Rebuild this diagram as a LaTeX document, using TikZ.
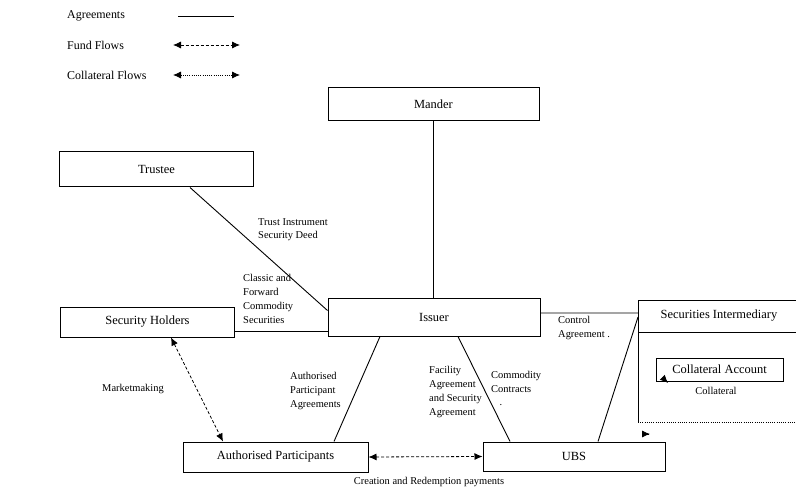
\documentclass[tikz,border=0pt]{standalone}
\usepackage{fontspec}
\setmainfont{Liberation Serif}
\usetikzlibrary{arrows.meta}
\newcommand\boxfont{\fontsize{12.5}{15}\selectfont}
\newcommand\lblfont{\fontsize{10.5}{14}\selectfont}
\newcommand\lgdfont{\fontsize{12}{14}\selectfont}
\begin{document}
\begin{tikzpicture}[x=1bp,y=-1bp,
  box/.style={draw, line width=1bp, inner sep=0pt, font=\boxfont},
  lbl/.style={inner sep=0pt, align=left, anchor=north west, font=\lblfont},
  lgd/.style={inner sep=0pt, anchor=west, font=\lgdfont},
  agree/.style={line width=0.9bp},
  fundflow/.style={line width=0.8bp, dash pattern=on 3bp off 2bp, {Latex[length=8bp,width=7bp]}-{Latex[length=8bp,width=7bp]}},
  colflow/.style={line width=0.8bp, dash pattern=on 1bp off 1.2bp, {Latex[length=8bp,width=7bp]}-{Latex[length=8bp,width=7bp]}},
]
\useasboundingbox[fill=white] (0,0) rectangle (796,492);

% legend
\node[lgd] (lgA) at (67,16) {Agreements};
\node[lgd] (lgF) at (67,45) {Fund Flows};
\node[lgd] (lgC) at (67,75) {Collateral Flows};
\coordinate (lgA1) at (178,16); \coordinate (lgA2) at (234,16);
\coordinate (lgF1) at (173,45); \coordinate (lgF2) at (240,45);
\coordinate (lgC1) at (173,75); \coordinate (lgC2) at (240,75);
\draw[agree] (lgA1) -- (lgA2);
\draw[fundflow] (lgF1) -- (lgF2);
\draw[colflow] (lgC1) -- (lgC2);

% boxes
\node[box, minimum width=211bp, minimum height=33bp] (mander) at (433.5,104.5) {Mander};
\node[box, minimum width=193bp, minimum height=35bp] (trustee) at (156.5,169.5) {Trustee};
\node[box, minimum width=212bp, minimum height=37bp] (issuer) at (434,317.5) {Issuer};
\node[box, minimum width=173bp, minimum height=30bp] (holders) at (147.5,322) {Security Holders};
\node[box, minimum width=185bp, minimum height=30bp] (ap) at (275.5,457) {Authorised Participants};
\node[box, minimum width=182bp, minimum height=29bp] (ubs) at (574,456.5) {UBS};
\node[box, minimum width=127bp, minimum height=23bp] (colacc) at (719.5,369.5) {Collateral Account};

% securities intermediary frame
\node[inner sep=0pt, font=\boxfont] (si) at (719,316) {Securities Intermediary};
\coordinate (siTL) at (638,300);
\coordinate (siTR) at (796,300);
\coordinate (siHL) at (638,332);
\coordinate (siHR) at (796,332);
\coordinate (siBL) at (638,422);
\coordinate (siBR) at (796,422);
\draw[line width=1bp] (siTR) -- (siTL) -- (siBL);
\draw[line width=1bp] (siHL) -- (siHR);
\draw[line width=0.8bp, dash pattern=on 1bp off 1.2bp] (siBL) -- (siBR);
\coordinate (siC) at (638,313);
\coordinate (siU) at (638,317);

% agreements
\draw[agree] (mander.south) -- (mander.south |- issuer.north);
\draw[agree] ([xshift=33.5bp]trustee.south) -- ([yshift=-12bp]issuer.north west);
\coordinate (h1) at ([yshift=-9bp]holders.east);
\draw[agree] (h1) -- (h1 -| issuer.west);
\draw[agree] ([xshift=-54bp]issuer.south) -- ([xshift=58.5bp]ap.north);
\draw[agree] ([xshift=24bp]issuer.south) -- ([xshift=-64bp]ubs.north);
\coordinate (i1) at ([yshift=4.5bp]issuer.east);
\draw[agree] (i1) -- (siC);
\draw[agree] ([xshift=24bp]ubs.north) -- (siU);

% flows
\draw[fundflow] ([xshift=23.5bp]holders.south) -- ([xshift=-52.5bp]ap.north);
\draw[fundflow] (ap.east) -- (ubs.west);

% collateral flow heads
\coordinate (cf1b) at (668,383);
\coordinate (cf2b) at (650,434);
\draw[line width=0.8bp, -{Latex[length=8bp,width=7bp]}] ([shift={(-1.5bp,1.5bp)}]cf1b) -- (cf1b);
\draw[line width=0.8bp, -{Latex[length=8bp,width=7bp]}] ([xshift=-1.5bp]cf2b) -- (cf2b);

% labels
\node[lbl] (lTrust) at (258,218) {Trust Instrument\\Security Deed};
\node[lbl] (lClassic) at (243,274) {Classic and\\Forward\\Commodity\\Securities};
\node[inner sep=0pt, font=\lblfont] (lMarket) at (133,389) {Marketmaking};
\node[lbl] (lAPA) at (290,372) {Authorised\\Participant\\Agreements};
\node[lbl] (lFac) at (429,366) {Facility\\Agreement\\and Security\\Agreement};
\node[lbl] (lCom) at (491,371) {Commodity\\Contracts};
\node[inner sep=0pt, font=\lblfont] (lDot) at (501,405) {.};
\node[lbl] (lCtrl) at (558,316) {Control\\Agreement .};
\node[inner sep=0pt, font=\lblfont] (lColl) at (716,391) {Collateral};
\node[inner sep=0pt, font=\lblfont] (lCR) at (429,482) {Creation and Redemption payments};
\end{tikzpicture}
\end{document}
